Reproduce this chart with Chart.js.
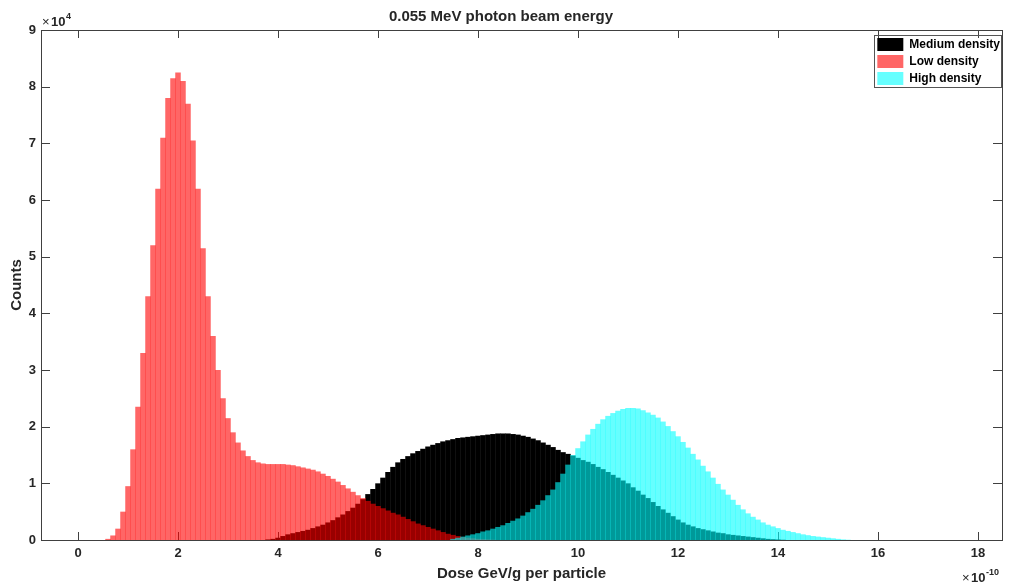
<!DOCTYPE html>
<html>
<head>
<meta charset="utf-8">
<title>0.055 MeV photon beam energy</title>
<script src="https://cdn.jsdelivr.net/npm/chart.js@4.4.1/dist/chart.umd.min.js"></script>
<style>
    html, body { margin: 0; padding: 0; background: #fff; }
</style>
</head>
<body>
<canvas id="chart" width="1014" height="584"></canvas>
<script>
/* Dose histograms for three densities at 0.055 MeV. Counts are in units of
   1e4, dose bin centres in units of 1e-10 GeV/g. */
(function () {
    "use strict";

    var binWidth = 0.1;

    var mediumStart = 3.8;
    var mediumDensity = [
        0.01, 0.02, 0.04, 0.07, 0.1, 0.12, 0.14, 0.16, 0.18, 0.21,
        0.24, 0.27, 0.31, 0.35, 0.4, 0.45, 0.51, 0.57, 0.64, 0.72,
        0.81, 0.9, 1.0, 1.1, 1.2, 1.29, 1.37, 1.43, 1.48, 1.53,
        1.57, 1.61, 1.65, 1.68, 1.71, 1.74, 1.76, 1.78, 1.8, 1.81,
        1.82, 1.83, 1.84, 1.85, 1.86, 1.87, 1.88, 1.88, 1.88, 1.87,
        1.86, 1.84, 1.82, 1.79, 1.76, 1.72, 1.68, 1.64, 1.59, 1.55,
        1.52, 1.49, 1.45, 1.41, 1.38, 1.34, 1.29, 1.25, 1.2, 1.15,
        1.1, 1.05, 1.0, 0.93, 0.87, 0.8, 0.74, 0.67, 0.6, 0.54,
        0.48, 0.42, 0.36, 0.31, 0.27, 0.24, 0.21, 0.19, 0.17, 0.15,
        0.13, 0.12, 0.1, 0.09, 0.08, 0.07, 0.06, 0.05, 0.04, 0.03,
        0.02, 0.015, 0.01, 0.005
    ];

    var lowStart = 0.6;
    var lowDensity = [
        0.02, 0.08, 0.2, 0.5, 0.95, 1.6, 2.35, 3.3, 4.3, 5.2,
        6.2, 7.1, 7.8, 8.15, 8.25, 8.1, 7.7, 7.05, 6.2, 5.15,
        4.3, 3.6, 3.0, 2.5, 2.15, 1.9, 1.72, 1.58, 1.48, 1.41,
        1.37, 1.35, 1.34, 1.34, 1.34, 1.34, 1.33, 1.32, 1.3, 1.28,
        1.26, 1.24, 1.21, 1.17, 1.13, 1.08, 1.03, 0.97, 0.91, 0.85,
        0.79, 0.74, 0.69, 0.64, 0.6, 0.56, 0.52, 0.48, 0.45, 0.41,
        0.37, 0.33, 0.29, 0.26, 0.23, 0.2, 0.17, 0.14, 0.11, 0.09,
        0.07, 0.05, 0.04, 0.03, 0.02, 0.015, 0.01, 0.005
    ];

    var highStart = 7.5;
    var highDensity = [
        0.02, 0.04, 0.06, 0.08, 0.1, 0.12, 0.15, 0.17, 0.2, 0.23,
        0.26, 0.3, 0.34, 0.38, 0.43, 0.49, 0.55, 0.62, 0.7, 0.79,
        0.89, 1.02, 1.17, 1.33, 1.5, 1.62, 1.74, 1.86, 1.96, 2.05,
        2.13, 2.19, 2.24, 2.28, 2.31, 2.33, 2.33, 2.32, 2.29, 2.25,
        2.21, 2.16, 2.09, 2.01, 1.92, 1.83, 1.73, 1.63, 1.52, 1.42,
        1.31, 1.21, 1.1, 0.99, 0.89, 0.8, 0.71, 0.62, 0.54, 0.47,
        0.41, 0.36, 0.31, 0.27, 0.24, 0.21, 0.18, 0.16, 0.14, 0.12,
        0.1, 0.085, 0.07, 0.06, 0.05, 0.04, 0.03, 0.02, 0.01, 0.005
    ];

    var xTicks = [0, 2, 4, 6, 8, 10, 12, 14, 16, 18];
    var yTicks = [0, 1, 2, 3, 4, 5, 6, 7, 8, 9];

    function bins(start, counts) {
        return counts.map(function (c, i) {
            return { x: Math.round((start + i * binWidth) * 100) / 100, y: c };
        });
    }

    var fontFamily = "'Liberation Sans', Arial, Helvetica, sans-serif";
    var axisColor = "#404040";

    // MATLAB style: inward ticks on all four sides, under the bars
    var tickMarks = {
        id: "tickMarks",
        beforeDatasetsDraw: function (chart) {
            var ca = chart.chartArea, ctx = chart.ctx;
            var xs = chart.scales.x, ys = chart.scales.y;
            ctx.save();
            ctx.strokeStyle = axisColor;
            ctx.lineWidth = 1;
            ctx.beginPath();
            xTicks.forEach(function (v) {
                var px = Math.round(xs.getPixelForValue(v)) + 0.5;
                ctx.moveTo(px, ca.bottom);
                ctx.lineTo(px, ca.bottom - 8);
                ctx.moveTo(px, ca.top);
                ctx.lineTo(px, ca.top + 8);
            });
            yTicks.forEach(function (v) {
                var py = Math.round(ys.getPixelForValue(v)) + 0.5;
                ctx.moveTo(ca.left, py);
                ctx.lineTo(ca.left + 9, py);
                ctx.moveTo(ca.right, py);
                ctx.lineTo(ca.right - 9, py);
            });
            ctx.stroke();
            ctx.restore();
        },
        afterDatasetsDraw: function (chart) {
            var ca = chart.chartArea, ctx = chart.ctx;
            ctx.save();
            ctx.strokeStyle = axisColor;
            ctx.lineWidth = 1;
            ctx.strokeRect(Math.round(ca.left) + 0.5, Math.round(ca.top) + 0.5,
                Math.round(ca.right - ca.left), Math.round(ca.bottom - ca.top));
            ctx.restore();
        }
    };

    // legend sits inside the top right corner of the axes, with a box
    var legendBox = {
        id: "legendBox",
        afterLayout: function (chart) {
            var lg = chart.legend, ca = chart.chartArea;
            var w = lg.columnSizes[0].width + 6;
            var h = lg.columnSizes[0].height;
            lg.left = ca.right - w;
            lg.right = lg.left + w;
            lg.top = ca.top + 4;
            lg.bottom = lg.top + h + 10;
        },
        afterDraw: function (chart) {
            var lg = chart.legend, ctx = chart.ctx;
            var pad = lg.options.labels.padding;
            var w = lg.columnSizes[0].width + 6;
            var h = lg.columnSizes[0].height;
            ctx.save();
            ctx.strokeStyle = "#555";
            ctx.lineWidth = 1;
            ctx.strokeRect(Math.round(lg.left + pad - 3) + 0.5, Math.round(lg.top + pad - 3) + 0.5,
                Math.round(w - 2), Math.round(h + 1));
            ctx.restore();
        }
    };

    // axis exponent labels
    var exponents = {
        id: "exponents",
        afterDraw: function (chart) {
            var ctx = chart.ctx, ca = chart.chartArea;
            ctx.save();
            ctx.fillStyle = "#262626";
            ctx.textBaseline = "alphabetic";
            ctx.textAlign = "left";
            ctx.font = "13px " + fontFamily;
            ctx.fillText("\u00d7", ca.left + 1, ca.top - 4);
            ctx.font = "bold 13px " + fontFamily;
            ctx.fillText("10", ca.left + 10, ca.top - 4);
            ctx.font = "bold 9px " + fontFamily;
            ctx.fillText("4", ca.left + 25, ca.top - 11);

            ctx.font = "13px " + fontFamily;
            ctx.fillText("\u00d7", ca.right - 40, 582);
            ctx.font = "bold 13px " + fontFamily;
            ctx.fillText("10", ca.right - 31, 582);
            ctx.font = "bold 9px " + fontFamily;
            ctx.fillText("-10", ca.right - 16, 575);
            ctx.restore();
        }
    };

    new Chart(document.getElementById("chart"), {
        type: "bar",
        data: {
            datasets: [
                {
                    label: "Medium density",
                    data: bins(mediumStart, mediumDensity),
                    backgroundColor: "#000000",
                    order: 3
                },
                {
                    label: "Low density",
                    data: bins(lowStart, lowDensity),
                    backgroundColor: "rgba(255, 0, 0, 0.6)",
                    order: 2
                },
                {
                    label: "High density",
                    data: bins(highStart, highDensity),
                    backgroundColor: "rgba(0, 255, 255, 0.6)",
                    order: 1
                }
            ]
        },
        options: {
            responsive: false,
            animation: false,
            grouped: false,
            // slight overlap gives the thin darker seams of the bin edges
            barPercentage: 1.1,
            categoryPercentage: 1,
            borderWidth: 0,
            layout: { padding: { left: 0, right: 12, top: 0, bottom: 0 } },
            scales: {
                x: {
                    type: "linear",
                    offset: false,
                    min: -0.74,
                    max: 18.48,
                    grid: { display: false, drawTicks: false, offset: false },
                    border: { display: false },
                    afterBuildTicks: function (scale) {
                        scale.ticks = xTicks.map(function (v) { return { value: v }; });
                    },
                    afterFit: function (scale) { scale.height = 44; },
                    ticks: {
                        autoSkip: false,
                        maxRotation: 0,
                        padding: 6,
                        color: "#262626",
                        font: { family: fontFamily, size: 13, weight: "bold" }
                    },
                    title: {
                        display: true,
                        text: "Dose GeV/g per particle",
                        color: "#262626",
                        padding: { top: 0, bottom: 1 },
                        font: { family: fontFamily, size: 15, weight: "bold" }
                    }
                },
                y: {
                    min: 0,
                    max: 9,
                    grid: { display: false, drawTicks: false },
                    border: { display: false },
                    afterBuildTicks: function (scale) {
                        scale.ticks = yTicks.map(function (v) { return { value: v }; });
                    },
                    afterFit: function (scale) { scale.width = 41; },
                    ticks: {
                        padding: 5,
                        color: "#262626",
                        font: { family: fontFamily, size: 13, weight: "bold" }
                    },
                    title: {
                        display: true,
                        text: "Counts",
                        color: "#262626",
                        padding: { top: 8, bottom: 0 },
                        font: { family: fontFamily, size: 15, weight: "bold" }
                    }
                }
            },
            plugins: {
                title: {
                    display: true,
                    text: "0.055 MeV photon beam energy",
                    color: "#262626",
                    padding: { top: 8, bottom: 4 },
                    font: { family: fontFamily, size: 15, weight: "bold" }
                },
                legend: {
                    position: "chartArea",
                    align: "start",
                    labels: {
                        boxWidth: 26,
                        boxHeight: 13,
                        padding: 4,
                        color: "#000",
                        font: { family: fontFamily, size: 12, weight: "bold" },
                        sort: function (a, b) {
                            return a.datasetIndex - b.datasetIndex;
                        }
                    }
                },
                tooltip: { enabled: false }
            }
        },
        plugins: [tickMarks, legendBox, exponents]
    });
})();
</script>
</body>
</html>
